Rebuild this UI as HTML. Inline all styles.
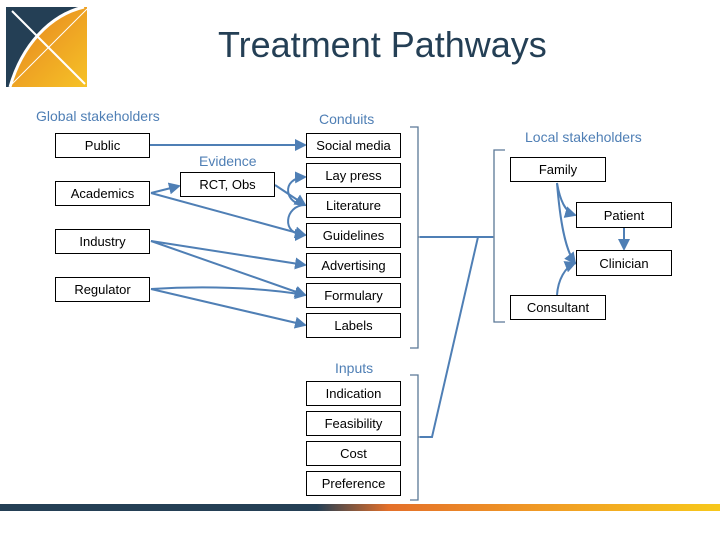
<!DOCTYPE html>
<html><head><style>
body{margin:0;width:720px;height:540px;background:#fff;overflow:hidden;position:relative;font-family:"Liberation Sans",sans-serif}
.b{position:absolute;box-sizing:border-box;border:1.3px solid #000;background:#fff;font-size:13px;color:#000;display:flex;align-items:center;justify-content:center;width:95px;height:25px}
.h{position:absolute;color:#4f7fb5;font-size:14px;white-space:nowrap}
</style></head><body>
<svg width="720" height="540" style="position:absolute;left:0;top:0">
<defs>
<linearGradient id="lg" x1="0" y1="0" x2="1" y2="1"><stop offset="0" stop-color="#e5801f"/><stop offset="1" stop-color="#f6c227"/></linearGradient>
<linearGradient id="bar" x1="0" x2="1"><stop offset="0" stop-color="#243f55"/><stop offset="0.44" stop-color="#243f55"/><stop offset="0.54" stop-color="#e4702a"/><stop offset="0.75" stop-color="#f09a25"/><stop offset="1" stop-color="#f7c81b"/></linearGradient>
<marker id="a" markerWidth="6" markerHeight="6" refX="5" refY="3" orient="auto"><path d="M0,0L6,3L0,6z" fill="#4f7fb5"/></marker>
</defs>
<rect x="6" y="7" width="81" height="80" fill="url(#lg)"/>
<path d="M6,7H84C50,15 22,45 10,87H6Z" fill="#243f55"/>
<path d="M84,7C50,15 22,45 10,87" stroke="#fff" stroke-width="3" fill="none"/>
<line x1="12" y1="11" x2="85" y2="84" stroke="#fff" stroke-width="2"/>
<line x1="87" y1="9" x2="10" y2="86" stroke="#fff" stroke-width="1"/>
<rect x="0" y="504" width="720" height="7" fill="url(#bar)"/>
<g stroke="#4f7fb5" stroke-width="2" fill="none" marker-end="url(#a)">
<line x1="149" y1="145" x2="305" y2="145"/>
<line x1="151" y1="193" x2="179" y2="186"/>
<line x1="151" y1="193" x2="305" y2="235"/>
<line x1="275" y1="185" x2="305" y2="205"/>
<path d="M305,205C285,205 280,178 305,177"/>
<path d="M305,205C285,205 280,235 305,235"/>
<line x1="151" y1="241" x2="305" y2="265"/>
<line x1="151" y1="241" x2="305" y2="295"/>
<path d="M151,289C200,286 260,287 305,295"/>
<line x1="151" y1="289" x2="305" y2="325"/>
<path d="M557,183C560,200 565,212 575,215"/>
<path d="M557,183C560,220 565,250 575,263"/>
<path d="M557,295C558,280 565,267 575,263"/>
<line x1="624" y1="228" x2="624" y2="249"/>
</g>
<g stroke="#5a7896" stroke-width="1.3" fill="none">
<path d="M410,127h8v110h4M418,237v111h-8"/>
<path d="M410,375h8v62h4M418,437v63h-8"/>
<path d="M505,150h-11v87h-3M494,237v85h11"/>
</g>
<g stroke="#4f7fb5" stroke-width="2" fill="none">
<line x1="420" y1="237" x2="493" y2="237"/>
<polyline points="420,437 432,437 478,237"/>
</g>
</svg>
<div style="position:absolute;left:218px;top:24px;font-size:36px;color:#243f55">Treatment Pathways</div>
<div class="h" style="left:36px;top:108px">Global stakeholders</div>
<div class="h" style="left:319px;top:111px">Conduits</div>
<div class="h" style="left:199px;top:153px">Evidence</div>
<div class="h" style="left:525px;top:129px">Local stakeholders</div>
<div class="h" style="left:335px;top:360px">Inputs</div>
<div class="b" style="left:55px;top:133px">Public</div>
<div class="b" style="left:55px;top:181px">Academics</div>
<div class="b" style="left:55px;top:229px">Industry</div>
<div class="b" style="left:55px;top:277px">Regulator</div>
<div class="b" style="left:180px;top:172px">RCT, Obs</div>
<div class="b" style="left:306px;top:133px">Social media</div>
<div class="b" style="left:306px;top:163px">Lay press</div>
<div class="b" style="left:306px;top:193px">Literature</div>
<div class="b" style="left:306px;top:223px">Guidelines</div>
<div class="b" style="left:306px;top:253px">Advertising</div>
<div class="b" style="left:306px;top:283px">Formulary</div>
<div class="b" style="left:306px;top:313px">Labels</div>
<div class="b" style="left:306px;top:381px">Indication</div>
<div class="b" style="left:306px;top:411px">Feasibility</div>
<div class="b" style="left:306px;top:441px">Cost</div>
<div class="b" style="left:306px;top:471px">Preference</div>
<div class="b" style="left:510px;top:157px;width:96px">Family</div>
<div class="b" style="left:576px;top:202px;width:96px;height:26px">Patient</div>
<div class="b" style="left:576px;top:250px;width:96px;height:26px">Clinician</div>
<div class="b" style="left:510px;top:295px;width:96px">Consultant</div>
</body></html>
